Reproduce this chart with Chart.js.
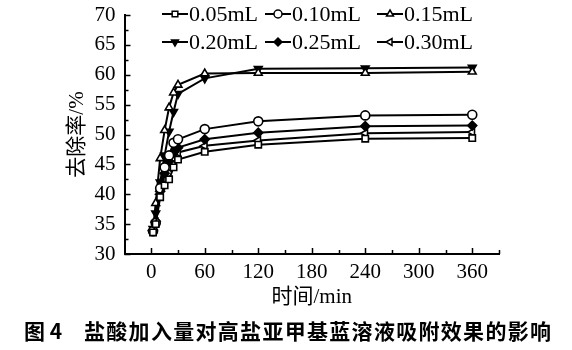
<!DOCTYPE html>
<html>
<head>
<meta charset="utf-8">
<script src="https://cdn.jsdelivr.net/npm/chart.js@4.4.1/dist/chart.umd.min.js"></script>
<style>
  html, body { margin: 0; padding: 0; background: #fff; }
  #wrap { position: relative; width: 572px; height: 350px; }
  #caption {
    position: absolute; left: 24px; top: 317px; white-space: nowrap;
    font-family: "Noto Sans CJK SC", sans-serif; font-weight: bold;
    font-size: 21px; line-height: 26px; color: #000;
  }
  #caption .txt { position: absolute; left: 60px; letter-spacing: 1.3px; }
</style>
</head>
<body>
<div id="wrap">
  <canvas id="c" width="572" height="350"></canvas>
  <div id="caption"><span>图 4</span><span class="txt">盐酸加入量对高盐亚甲基蓝溶液吸附效果的影响</span></div>
</div>
<script>
// sampling times (min)
const times = [2, 5, 10, 15, 20, 25, 30, 60, 120, 240, 360];

// removal rate (%) for each HCl dose
const hcl005 = [33.6, 35.0, 39.5, 41.5, 42.5, 44.5, 45.8, 47.1, 48.3, 49.3, 49.4];
const hcl010 = [33.8, 35.2, 41.0, 44.5, 46.5, 48.6, 49.2, 50.9, 52.2, 53.2, 53.3];
const hcl015 = [34.0, 38.5, 46.0, 50.7, 54.5, 57.0, 58.3, 60.2, 60.3, 60.3, 60.5];
const hcl020 = [34.2, 36.8, 42.0, 46.5, 50.5, 53.8, 56.8, 59.4, 61.0, 61.1, 61.2];
const hcl025 = [34.0, 35.5, 40.5, 43.5, 45.5, 47.0, 47.8, 49.2, 50.3, 51.4, 51.5];
const hcl030 = [33.9, 35.3, 40.0, 42.5, 44.5, 46.0, 47.0, 48.1, 49.0, 50.2, 50.4];

const seriesLabels = ["0.05mL", "0.10mL", "0.15mL", "0.20mL", "0.25mL", "0.30mL"];
const seriesValues = [hcl005, hcl010, hcl015, hcl020, hcl025, hcl030];

const yTicks = [30, 35, 40, 45, 50, 55, 60, 65, 70];
const xTicks = [0, 60, 120, 180, 240, 300, 360];

const markers = [
  { style: "rect", fill: "#fff", rot: 0 },
  { style: "circle", fill: "#fff", rot: 0 },
  { style: "triangle", fill: "#fff", rot: 0 },
  { style: "triangle", fill: "#000", rot: 180 },
  { style: "rectRot", fill: "#000", rot: 0 },
  { style: "triangle", fill: "#fff", rot: -90 },
];

const SERIF = "'Liberation Serif', 'Noto Sans CJK SC', serif";
Chart.defaults.font.family = SERIF;
Chart.defaults.color = "#000";

const datasets = seriesLabels.map((label, i) => ({
  label: label,
  data: times.map((t, j) => ({ x: t, y: seriesValues[i][j] })),
  borderColor: "#000",
  borderWidth: 2,
  pointStyle: markers[i].style,
  pointRotation: markers[i].rot,
  pointBackgroundColor: markers[i].fill,
  pointBorderColor: "#000",
  pointBorderWidth: 1.6,
  pointRadius: 4.5,
  tension: 0,
}));

// inward tick marks, long at labelled values, short in between
const innerTicks = {
  id: "innerTicks",
  afterDraw(chart) {
    const ctx = chart.ctx;
    const xs = chart.scales.x, ys = chart.scales.y;
    ctx.save();
    ctx.strokeStyle = "#000";
    ctx.lineWidth = 1.5;
    ctx.beginPath();
    ys.ticks.forEach((t) => {
      const y = Math.round(ys.getPixelForValue(t.value)) + 0.5;
      const len = yTicks.includes(t.value) ? 6 : 4;
      ctx.moveTo(xs.left, y);
      ctx.lineTo(xs.left + len, y);
    });
    xs.ticks.forEach((t) => {
      if (t.value <= xs.min) return;
      const x = Math.round(xs.getPixelForValue(t.value)) + 0.5;
      const len = xTicks.includes(t.value) ? 6 : 4;
      ctx.moveTo(x, ys.bottom);
      ctx.lineTo(x, ys.bottom - len);
    });
    ctx.stroke();
    ctx.restore();
  },
};

// two-row legend inside the plot: line sample with marker, then label
const lineLegend = {
  id: "lineLegend",
  afterDraw(chart) {
    const ctx = chart.ctx;
    const cols = [162, 265, 377];
    const rows = [14, 42];
    const sampleLen = 26;
    ctx.save();
    ctx.font = "22px " + SERIF;
    ctx.textBaseline = "middle";
    chart.data.datasets.forEach((ds, i) => {
      const x0 = cols[i % 3];
      const y = rows[Math.floor(i / 3)];
      ctx.strokeStyle = "#000";
      ctx.lineWidth = 2;
      ctx.beginPath();
      ctx.moveTo(x0, y);
      ctx.lineTo(x0 + sampleLen, y);
      ctx.stroke();
      ctx.fillStyle = ds.pointBackgroundColor;
      ctx.lineWidth = 1.5;
      Chart.helpers.drawPoint(ctx, {
        pointStyle: ds.pointStyle,
        rotation: ds.pointRotation,
        radius: 4,
        borderWidth: 1.5,
      }, x0 + sampleLen / 2, y);
      ctx.fillStyle = "#000";
      ctx.fillText(ds.label, x0 + sampleLen + 1, y + 1);
    });
    ctx.restore();
  },
};

new Chart(document.getElementById("c"), {
  type: "line",
  data: { datasets: datasets },
  plugins: [innerTicks, lineLegend],
  options: {
    responsive: false,
    animation: false,
    events: [],
    layout: { padding: { left: 65, top: 15, right: 73, bottom: 40 } },
    plugins: {
      legend: { display: false },
      tooltip: { enabled: false },
    },
    scales: {
      x: {
        type: "linear",
        min: -30,
        max: 390,
        afterFit: (s) => { s.height = 56; s.paddingLeft = 0; s.paddingRight = 0; },
        afterBuildTicks: (s) => {
          s.ticks = [];
          for (let v = -30; v <= 390; v += 30) s.ticks.push({ value: v });
        },
        ticks: {
          autoSkip: false,
          maxRotation: 0,
          padding: 6,
          font: { size: 21 },
          callback: (v) => (xTicks.includes(v) ? String(v) : ""),
        },
        grid: { display: false, drawTicks: false },
        border: { display: true, color: "#000", width: 2 },
        title: {
          display: true,
          text: "时间/min",
          font: { size: 21 },
          padding: { top: 0, bottom: 0 },
        },
      },
      y: {
        min: 30,
        max: 70,
        afterFit: (s) => { s.width = 59.5; s.paddingTop = 0; s.paddingBottom = 0; },
        afterBuildTicks: (s) => {
          s.ticks = [];
          for (let v = 30; v <= 70; v += 2.5) s.ticks.push({ value: v });
        },
        ticks: {
          autoSkip: false,
          padding: 9,
          font: { size: 21 },
          callback: (v) => (yTicks.includes(v) ? String(v) : ""),
        },
        grid: { display: false, drawTicks: false },
        border: { display: true, color: "#000", width: 2 },
        title: {
          display: true,
          text: "去除率/%",
          font: { size: 21 },
          padding: { top: 0, bottom: 0 },
        },
      },
    },
  },
});
</script>
</body>
</html>
